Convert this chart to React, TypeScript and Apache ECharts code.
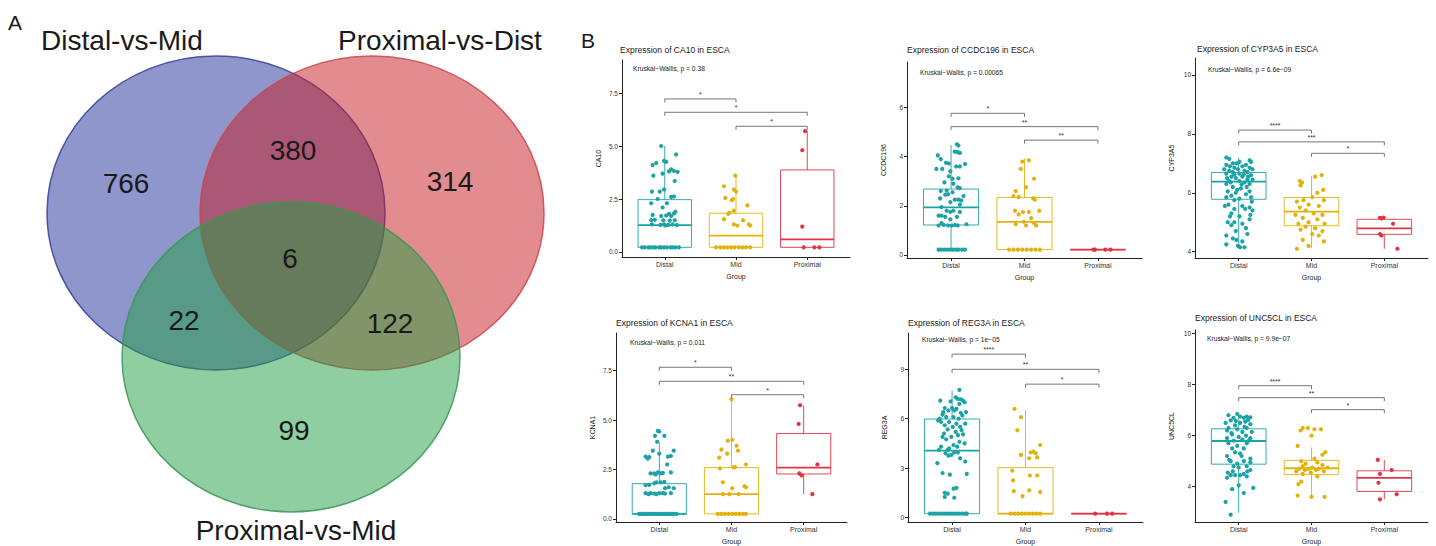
import React, { useEffect, useRef } from 'react';
import * as echarts from 'echarts';

// ---------------- Panel A: Venn ----------------
const vennSets = ['Distal-vs-Mid', 'Proximal-vs-Dist', 'Proximal-vs-Mid'];
const vennRegionLabels = ['766', '380', '314', '6', '22', '122', '99'];

// ---------------- Panel B: boxplots ----------------
const groups = ['Distal', 'Mid', 'Proximal'];
const groupColors = ['#1DA3A6', '#E2B20C', '#DF3444'];

// CA10
const ca10Distal = [
  [-0.32, 0.22], [-0.28, 0.22], [-0.23, 0.22], [-0.2, 0.22], [-0.16, 0.22], [-0.13, 0.22], [-0.08, 0.22], [-0.05, 0.22], [-0.01, 0.22], [0.03, 0.22], [0.08, 0.22], [0.11, 0.22], [0.15, 0.22], [0.2, 0.22],
  [-0.05, 5.0], [0.16, 4.6], [-0.01, 4.3], [0.02, 4.25], [-0.12, 4.2], [-0.17, 4.1], [0.09, 3.9], [0.06, 3.8], [0.13, 3.82], [0.18, 3.78],
  [-0.16, 3.6], [-0.03, 3.7], [0.14, 3.35], [-0.01, 2.95], [-0.18, 2.85], [-0.07, 2.85], [0.09, 2.6], [0.13, 2.62], [-0.1, 2.5],
  [-0.19, 2.3], [0.03, 2.3], [-0.03, 2.1], [0.15, 1.9], [0.06, 1.8], [0.13, 1.82], [0.09, 1.7], [0.02, 1.72], [-0.05, 1.7], [-0.17, 1.75],
  [-0.19, 1.5], [-0.14, 1.52], [-0.02, 1.5], [0.07, 1.48], [0.14, 1.5], [-0.18, 1.3], [-0.06, 1.28], [-0.01, 1.3], [0.01, 1.25], [0.05, 1.28], [0.11, 1.3], [0.17, 1.27],
];
const ca10Mid = [
  [-0.01, 3.6], [-0.17, 3.1], [-0.03, 2.95], [0.0, 2.85], [-0.15, 2.55], [-0.06, 2.45], [-0.04, 2.5], [0.16, 2.2], [-0.03, 1.95], [-0.09, 1.85], [-0.11, 1.8],
  [-0.17, 1.55], [0.1, 1.5], [-0.03, 1.3], [0.02, 1.25], [0.18, 1.3], [0.2, 1.25],
  [-0.28, 0.22], [-0.22, 0.22], [-0.17, 0.22], [-0.12, 0.22], [-0.07, 0.22], [-0.02, 0.22], [0.04, 0.22], [0.09, 0.22], [0.14, 0.22], [0.2, 0.22],
];
const ca10Proximal = [[-0.03, 5.7], [-0.07, 4.8], [-0.07, 1.2], [-0.05, 0.22], [0.1, 0.22], [0.17, 0.22]];
const ca10Boxes = [[0.22, 0.22, 1.27, 2.47, 5.0], [0.22, 0.22, 0.77, 1.83, 3.6], [0.22, 0.22, 0.6, 3.87, 5.7]];
const ca10Brackets = [[1, 2, 7.22], [1, 3, 6.59], [2, 3, 5.93]];
const ca10Signif = ['*', '*', '*'];
const ca10Ticks = [0, 2.5, 5, 7.5];

// CCDC196
const ccdcDistal = [
  [-0.17, 0.22], [-0.13, 0.22], [-0.09, 0.22], [-0.05, 0.22], [-0.01, 0.22], [0.03, 0.22], [0.07, 0.22], [0.1, 0.22], [0.15, 0.22], [0.19, 0.22],
  [0.08, 4.5], [0.1, 4.45], [0.05, 4.2], [0.09, 4.18], [0.12, 4.15], [-0.18, 4.05], [-0.14, 3.9], [-0.07, 3.75], [-0.03, 3.72], [0.19, 3.7],
  [0.07, 3.6], [0.12, 3.6], [-0.2, 3.5], [-0.12, 3.5], [-0.01, 3.4], [-0.03, 3.2], [0.02, 3.1], [0.1, 3.12], [-0.09, 2.95], [0.03, 2.9],
  [0.09, 2.75], [0.12, 2.72], [-0.14, 2.6], [-0.06, 2.62], [0.02, 2.55], [-0.08, 2.45], [-0.04, 2.47], [0.17, 2.4], [-0.15, 2.3], [0.05, 2.25],
  [0.1, 2.25], [0.14, 2.22], [-0.01, 2.15], [0.12, 2.05], [-0.13, 1.95], [-0.06, 1.8], [0.03, 1.8], [-0.01, 1.75], [0.12, 1.75], [-0.17, 1.6],
  [-0.13, 1.6], [-0.08, 1.55], [0.08, 1.55], [-0.01, 1.45], [-0.13, 1.3], [-0.17, 1.2], [-0.1, 1.22], [-0.04, 1.2], [0.01, 1.2], [0.05, 1.22], [0.09, 1.2], [0.21, 1.25],
];
const ccdcMid = [
  [0.06, 3.85], [-0.03, 3.8], [-0.05, 3.5], [0.13, 3.1], [0.02, 2.75], [-0.12, 2.6], [-0.15, 2.4], [-0.08, 2.35], [0.12, 2.3], [0.14, 2.25],
  [-0.13, 1.8], [-0.02, 1.75], [0.06, 1.75], [0.2, 1.8], [-0.08, 1.65], [0.09, 1.5], [-0.01, 1.35], [0.13, 1.3], [-0.12, 1.25], [0.02, 1.2], [0.16, 1.2],
  [-0.21, 0.22], [-0.15, 0.22], [-0.09, 0.22], [-0.03, 0.22], [0.03, 0.22], [0.09, 0.22], [0.15, 0.22], [0.21, 0.22],
];
const ccdcProximal = [[-0.06, 0.22], [-0.04, 0.22], [0.1, 0.22], [0.17, 0.22]];
const ccdcBoxes = [[0.22, 1.22, 1.94, 2.68, 4.47], [0.22, 0.22, 1.35, 2.34, 3.93], [0.22, 0.22, 0.22, 0.22, 0.22]];
const ccdcBrackets = [[1, 2, 5.76], [1, 3, 5.22], [2, 3, 4.67]];
const ccdcSignif = ['*', '**', '**'];
const ccdcTicks = [0, 2, 4, 6];

// CYP3A5
const cypDistal = [
  [-0.17, 7.2], [-0.13, 7.15], [0.15, 7.1], [0.01, 7.05], [0.17, 7.05], [-0.08, 7.0], [-0.03, 7.0], [-0.17, 6.95], [0.1, 6.95], [-0.12, 6.9],
  [0.05, 6.9], [-0.06, 6.85], [0.15, 6.85], [-0.2, 6.8], [-0.01, 6.8], [0.19, 6.8], [-0.13, 6.75], [0.08, 6.75], [-0.08, 6.7], [0.12, 6.7],
  [-0.17, 6.65], [0.01, 6.65], [0.17, 6.6], [-0.1, 6.55], [0.05, 6.55], [-0.16, 6.5], [-0.04, 6.5], [0.12, 6.45], [0.19, 6.45], [-0.13, 6.4],
  [0.01, 6.4], [0.08, 6.35], [-0.17, 6.3], [0.15, 6.3], [-0.08, 6.2], [0.03, 6.15], [-0.15, 6.05], [0.15, 6.05], [-0.04, 6.0], [0.1, 5.95],
  [-0.1, 5.9], [-0.17, 5.85], [0.17, 5.85], [0.01, 5.8], [-0.06, 5.75], [-0.14, 5.6], [0.05, 5.55], [0.15, 5.5], [-0.06, 5.45], [0.09, 5.45],
  [0.19, 5.4], [-0.1, 5.3], [0.01, 5.2], [0.15, 5.1], [-0.15, 5.0], [-0.06, 5.0], [0.05, 4.95], [-0.1, 4.9], [0.1, 4.8], [-0.04, 4.7],
  [-0.17, 4.55], [-0.03, 4.4], [0.05, 4.35], [-0.17, 4.25], [-0.01, 4.2], [0.02, 4.15], [0.08, 4.15],
  [0.07, 6.62], [-0.06, 6.62], [0.13, 6.55], [-0.11, 6.35], [0.04, 6.28], [-0.02, 6.1], [0.11, 6.2], [0.18, 5.7], [-0.12, 5.2], [0.16, 5.25],
  [-0.19, 5.55], [0.12, 4.6], [-0.08, 4.45],
];
const cypMid = [
  [0.14, 6.6], [0.05, 6.55], [-0.16, 6.4], [-0.13, 6.35], [-0.15, 6.25], [0.16, 6.1], [0.08, 6.0], [0.01, 5.85], [-0.11, 5.75], [0.17, 5.75],
  [-0.2, 5.7], [-0.04, 5.6], [0.1, 5.55], [-0.16, 5.5], [-0.08, 5.4], [0.03, 5.3], [-0.22, 5.25], [0.15, 5.25], [-0.12, 5.15], [0.08, 5.1],
  [-0.04, 5.0], [-0.18, 4.95], [0.18, 4.95], [-0.08, 4.85], [0.05, 4.8], [-0.15, 4.75], [0.15, 4.7], [0.01, 4.6], [0.1, 4.55], [-0.12, 4.4],
  [0.17, 4.35], [-0.04, 4.2], [-0.2, 4.1],
];
const cypProximal = [[-0.06, 5.15], [-0.04, 5.13], [-0.01, 5.16], [0.12, 4.95], [-0.06, 4.6], [-0.04, 4.55], [0.18, 4.1]];
const cypBoxes = [[4.11, 5.78, 6.38, 6.69, 7.19], [4.12, 4.88, 5.36, 5.84, 6.58], [4.1, 4.59, 4.79, 5.1, 5.15]];
const cypBrackets = [[1, 2, 8.13], [1, 3, 7.73], [2, 3, 7.34]];
const cypSignif = ['****', '***', '*'];
const cypTicks = [4, 6, 8, 10];

// KCNA1
const kcnaDistal = [
  [-0.28, 0.25], [-0.25, 0.25], [-0.22, 0.25], [-0.19, 0.25], [-0.16, 0.25], [-0.13, 0.25], [-0.1, 0.25], [-0.07, 0.25], [-0.04, 0.25], [-0.01, 0.25],
  [0.02, 0.25], [0.05, 0.25], [0.08, 0.25], [0.11, 0.25], [0.14, 0.25], [0.17, 0.25], [0.2, 0.25], [0.24, 0.25],
  [-0.02, 4.45], [0.0, 4.42], [-0.06, 4.2], [0.07, 4.2], [-0.03, 3.9], [-0.09, 3.45], [0.2, 3.45], [0.0, 3.3], [-0.19, 3.15], [-0.14, 3.12],
  [0.12, 3.15], [0.16, 3.18], [-0.16, 3.05], [0.11, 2.75], [-0.02, 2.35], [0.16, 2.35], [-0.12, 2.3], [-0.07, 2.3], [0.02, 2.3], [0.05, 2.32],
  [-0.05, 2.25], [-0.04, 1.85], [0.02, 1.85], [0.07, 1.87], [-0.07, 1.8], [-0.19, 1.7], [-0.14, 1.72], [0.13, 1.6], [0.08, 1.55], [0.2, 1.55],
  [-0.19, 1.3], [-0.12, 1.3], [-0.07, 1.28], [0.0, 1.3], [0.05, 1.3], [0.08, 1.28], [0.16, 1.3], [-0.15, 1.25], [-0.04, 1.25],
];
const kcnaMid = [
  [0.0, 6.05], [0.01, 4.0], [-0.05, 3.95], [0.07, 3.7], [-0.14, 3.5], [0.09, 3.45], [-0.06, 3.3], [-0.17, 3.1], [0.2, 2.75], [0.03, 2.6],
  [0.05, 2.62], [-0.16, 2.55], [-0.12, 1.85], [0.18, 1.65], [0.2, 1.6], [0.01, 1.55], [-0.12, 1.25], [-0.03, 1.25], [0.1, 1.25],
  [-0.19, 0.25], [-0.14, 0.25], [-0.09, 0.25], [-0.04, 0.25], [0.01, 0.25], [0.06, 0.25], [0.11, 0.25], [0.16, 0.25], [0.2, 0.25],
];
const kcnaProximal = [[-0.05, 5.75], [-0.07, 4.8], [0.19, 2.75], [-0.06, 2.3], [-0.03, 2.2], [0.12, 1.25]];
const kcnaBoxes = [[0.25, 0.25, 0.25, 1.78, 3.88], [0.25, 0.25, 1.25, 2.59, 6.07], [1.25, 2.27, 2.59, 4.32, 5.74]];
const kcnaBrackets = [[1, 2, 7.67], [1, 3, 6.96], [2, 3, 6.28]];
const kcnaSignif = ['*', '**', '*'];
const kcnaTicks = [0, 2.5, 5, 7.5];

// REG3A
const regDistal = [
  [0.1, 7.75], [0.05, 7.3], [0.08, 7.2], [0.12, 7.18], [-0.16, 7.1], [0.15, 7.1], [0.17, 7.0], [0.1, 6.9], [-0.1, 6.65], [0.0, 6.65],
  [0.06, 6.6], [-0.05, 6.5], [0.03, 6.5], [0.19, 6.4], [0.12, 6.35], [-0.13, 6.25], [-0.08, 6.1], [0.02, 6.1], [0.09, 6.0], [-0.19, 5.9],
  [-0.04, 5.8], [-0.15, 5.8], [0.06, 5.7], [0.18, 5.7], [-0.1, 5.6], [0.01, 5.5], [0.11, 5.5], [-0.06, 5.35], [0.05, 5.2], [0.15, 5.05],
  [0.08, 5.0], [-0.13, 4.9], [-0.01, 4.9], [-0.08, 4.75], [0.1, 4.6], [0.17, 4.5], [0.02, 4.4], [-0.15, 4.3], [-0.18, 4.1], [-0.06, 4.1],
  [0.03, 3.95], [0.08, 3.95], [-0.09, 3.9], [-0.01, 3.8], [-0.05, 3.75], [0.11, 3.6], [0.18, 3.4], [-0.2, 3.3], [-0.13, 2.7], [0.2, 2.65],
  [-0.03, 2.6], [0.06, 1.8], [0.02, 1.75], [-0.1, 1.5], [-0.06, 1.45], [-0.1, 1.25], [0.03, 1.2],
  [-0.02, 7.05], [-0.12, 6.4], [0.14, 6.2], [-0.17, 6.0], [0.13, 5.3], [-0.11, 5.1], [0.07, 4.3], [-0.04, 4.2],
  [-0.3, 0.23], [-0.26, 0.23], [-0.22, 0.23], [-0.18, 0.23], [-0.14, 0.23], [-0.1, 0.23], [-0.06, 0.23], [-0.02, 0.23], [0.02, 0.23], [0.06, 0.23],
  [0.1, 0.23], [0.14, 0.23], [0.18, 0.23], [0.2, 0.23],
];
const regMid = [
  [-0.15, 6.6], [-0.06, 6.1], [-0.11, 5.3], [0.2, 4.4], [0.11, 4.0], [0.07, 3.95], [0.14, 3.9], [-0.06, 3.8], [0.05, 3.6], [0.16, 3.65],
  [-0.18, 2.85], [0.06, 2.55], [0.16, 2.55], [-0.17, 2.25], [-0.16, 1.6], [0.05, 1.65], [0.2, 1.55], [-0.04, 1.3],
  [-0.2, 0.23], [-0.15, 0.23], [-0.1, 0.23], [-0.05, 0.23], [0.0, 0.23], [0.05, 0.23], [0.1, 0.23], [0.15, 0.23], [0.2, 0.23],
];
const regProximal = [[-0.05, 0.23], [0.11, 0.23], [0.18, 0.23]];
const regBoxes = [[0.23, 0.23, 4.06, 5.98, 7.71], [0.23, 0.23, 0.23, 3.03, 6.54], [0.23, 0.23, 0.23, 0.23, 0.23]];
const regBrackets = [[1, 2, 9.92], [1, 3, 9.0], [2, 3, 8.1]];
const regSignif = ['****', '**', '*'];
const regTicks = [0, 3, 6, 9];

// UNC5CL
const uncDistal = [
  [-0.02, 6.85], [-0.14, 6.8], [0.02, 6.75], [0.11, 6.75], [0.16, 6.72], [-0.07, 6.7], [0.07, 6.7], [-0.11, 6.6], [0.09, 6.55], [-0.18, 6.5],
  [0.02, 6.5], [0.16, 6.45], [-0.05, 6.4], [-0.14, 6.3], [0.11, 6.3], [-0.02, 6.25], [-0.16, 6.2], [0.05, 6.15], [0.18, 6.15], [-0.09, 6.05],
  [0.1, 6.0], [0.0, 5.95], [-0.16, 5.9], [0.16, 5.9], [0.05, 5.85], [-0.07, 5.8], [-0.14, 5.7], [0.11, 5.7], [-0.02, 5.6], [-0.09, 5.5],
  [0.07, 5.5], [-0.05, 5.35], [0.02, 5.3], [-0.16, 5.2], [0.16, 5.1], [-0.11, 5.0], [0.07, 5.0], [0.16, 4.95], [-0.02, 4.9], [-0.07, 4.8],
  [0.11, 4.8], [0.0, 4.75], [0.16, 4.65], [-0.15, 4.55], [0.07, 4.5], [-0.11, 4.45], [-0.05, 4.45], [0.02, 4.45], [0.11, 4.4], [-0.16, 4.35],
  [0.0, 4.05], [-0.09, 3.9], [0.2, 3.95], [0.07, 3.75], [-0.18, 3.4], [-0.11, 2.9],
  [0.13, 6.62], [-0.04, 6.58], [0.08, 6.35], [-0.1, 6.1], [0.14, 5.8], [0.04, 5.2], [-0.13, 5.05], [0.12, 4.6], [-0.08, 4.6],
];
const uncMid = [
  [-0.12, 6.3], [-0.05, 6.3], [0.04, 6.25], [0.13, 6.25], [-0.15, 6.2], [0.0, 6.0], [-0.19, 5.6], [0.19, 5.35], [0.15, 5.25], [0.04, 5.1],
  [-0.14, 5.0], [0.08, 4.95], [-0.08, 4.9], [0.15, 4.85], [-0.12, 4.8], [0.01, 4.75], [0.22, 4.75], [-0.17, 4.7], [-0.04, 4.7], [0.1, 4.7],
  [-0.09, 4.65], [0.06, 4.65], [-0.21, 4.6], [0.17, 4.6], [-0.01, 4.55], [-0.12, 4.5], [0.08, 4.4], [-0.14, 4.2], [-0.18, 4.1], [-0.19, 3.65],
  [0.0, 3.6], [0.18, 3.6],
];
const uncProximal = [[-0.09, 5.05], [0.1, 4.65], [-0.06, 4.5], [-0.08, 4.15], [0.17, 3.7], [-0.06, 3.5]];
const uncBoxes = [[2.98, 4.88, 5.79, 6.27, 6.86], [3.58, 4.47, 4.72, 5.03, 5.54], [3.5, 3.81, 4.34, 4.62, 5.05]];
const uncBrackets = [[1, 2, 7.96], [1, 3, 7.49], [2, 3, 7.02]];
const uncSignif = ['****', '**', '*'];
const uncTicks = [4, 6, 8, 10];

const genes = ['CA10', 'CCDC196', 'CYP3A5', 'KCNA1', 'REG3A', 'UNC5CL'];
const kwLabels = [
  'Kruskal\u2212Wallis, p = 0.38',
  'Kruskal\u2212Wallis, p = 0.00065',
  'Kruskal\u2212Wallis, p = 6.6e\u221209',
  'Kruskal\u2212Wallis, p = 0.011',
  'Kruskal\u2212Wallis, p = 1e\u221205',
  'Kruskal\u2212Wallis, p = 9.9e\u221207',
];

// ---------------- layout (positions / sizes only) ----------------
const FONT = "'Liberation Sans', Arial, sans-serif";
const panelLayout = [
  { left: 622, top: 60, width: 228, height: 197, min: -0.236, max: 9.057, decimals: 1, tx: 620, ty: 50, kx: 633, ky: 68 },
  { left: 907, top: 62, width: 235, height: 196, min: -0.122, max: 7.846, decimals: 0, tx: 907, ty: 50, kx: 920, ky: 72 },
  { left: 1195, top: 58, width: 233, height: 200, min: 3.786, max: 10.577, decimals: 0, tx: 1197, ty: 49, kx: 1208, ky: 69 },
  { left: 616, top: 333, width: 231, height: 197, min: -0.16, max: 9.403, decimals: 1, tx: 616, ty: 323, kx: 630, ky: 342 },
  { left: 908, top: 333, width: 235, height: 196, min: -0.275, max: 11.207, decimals: 0, tx: 908, ty: 323, kx: 922, ky: 339 },
  { left: 1195, top: 330, width: 233, height: 199, min: 2.612, max: 10.144, decimals: 0, tx: 1195, ty: 318, kx: 1207, ky: 338 },
];

const panelPoints = [
  [ca10Distal, ca10Mid, ca10Proximal],
  [ccdcDistal, ccdcMid, ccdcProximal],
  [cypDistal, cypMid, cypProximal],
  [kcnaDistal, kcnaMid, kcnaProximal],
  [regDistal, regMid, regProximal],
  [uncDistal, uncMid, uncProximal],
];
const panelBoxes = [ca10Boxes, ccdcBoxes, cypBoxes, kcnaBoxes, regBoxes, uncBoxes];
const panelBrackets = [ca10Brackets, ccdcBrackets, cypBrackets, kcnaBrackets, regBrackets, uncBrackets];
const panelSignif = [ca10Signif, ccdcSignif, cypSignif, kcnaSignif, regSignif, uncSignif];
const panelTicks = [ca10Ticks, ccdcTicks, cypTicks, kcnaTicks, regTicks, uncTicks];

const vennEllipses = [
  { cx: 216, cy: 213, rx: 169, ry: 157, fill: 'rgba(29,45,153,0.5)', stroke: 'rgba(55,65,150,0.85)' },
  { cx: 372, cy: 213, rx: 172, ry: 157, fill: 'rgba(197,25,31,0.5)', stroke: 'rgba(205,70,80,0.85)' },
  { cx: 291, cy: 357, rx: 169, ry: 155, fill: 'rgba(31,157,65,0.5)', stroke: 'rgba(60,150,85,0.85)' },
];
const vennSetPos = [[122, 40], [440, 40], [296, 530]];
const vennRegionPos = [[126, 183], [293, 150], [450, 181], [290, 258], [184, 320], [390, 323], [294, 430]];

function buildOption() {
  const grid: any[] = [];
  const xAxis: any[] = [];
  const yAxis: any[] = [];
  const series: any[] = [];
  const graphic: any[] = [];

  // Venn
  vennEllipses.forEach((e) => {
    graphic.push({
      type: 'ellipse',
      shape: { cx: e.cx, cy: e.cy, rx: e.rx, ry: e.ry },
      style: { fill: e.fill, stroke: e.stroke, lineWidth: 1.5 },
      silent: true,
    });
  });
  vennSets.forEach((s, i) => {
    graphic.push({
      type: 'text', x: vennSetPos[i][0], y: vennSetPos[i][1], silent: true,
      style: { text: s, font: `28px ${FONT}`, fill: '#1a1a1a', textAlign: 'center', textVerticalAlign: 'middle' },
    });
  });
  vennRegionLabels.forEach((s, i) => {
    graphic.push({
      type: 'text', x: vennRegionPos[i][0], y: vennRegionPos[i][1], silent: true,
      style: { text: s, font: `28px ${FONT}`, fill: '#1a1a1a', textAlign: 'center', textVerticalAlign: 'middle' },
    });
  });
  graphic.push({ type: 'text', x: 15, y: 22, style: { text: 'A', font: `21px ${FONT}`, fill: '#1a1a1a', textAlign: 'center', textVerticalAlign: 'middle' } });
  graphic.push({ type: 'text', x: 588, y: 40, style: { text: 'B', font: `21px ${FONT}`, fill: '#1a1a1a', textAlign: 'center', textVerticalAlign: 'middle' } });

  panelLayout.forEach((L, i) => {
    grid.push({ left: L.left, top: L.top, width: L.width, height: L.height, containLabel: false });
    xAxis.push({
      gridIndex: i, type: 'value', min: 0.4, max: 3.6,
      axisLine: { show: true, onZero: false, lineStyle: { color: '#222', width: 1 } },
      axisTick: { show: true, customValues: [1, 2, 3], length: 3, lineStyle: { color: '#222', width: 1 } },
      axisLabel: { customValues: [1, 2, 3], formatter: (v: number) => groups[Math.round(v) - 1] || '', fontSize: 7, color: '#333', margin: 4, fontFamily: FONT },
      splitLine: { show: false },
      name: 'Group', nameLocation: 'middle', nameGap: 16,
      nameTextStyle: { fontSize: 7, color: '#1a1a1a', fontFamily: FONT },
    });
    yAxis.push({
      gridIndex: i, type: 'value', min: L.min, max: L.max,
      axisLine: { show: true, onZero: false, lineStyle: { color: '#222', width: 1 } },
      axisTick: { show: true, customValues: panelTicks[i], length: 3, lineStyle: { color: '#222', width: 1 } },
      axisLabel: { customValues: panelTicks[i], formatter: (v: number) => v.toFixed(L.decimals), fontSize: 6.5, color: '#333', margin: 4, fontFamily: FONT },
      splitLine: { show: false },
      name: genes[i], nameLocation: 'middle', nameGap: 20, nameRotate: 90,
      nameTextStyle: { fontSize: 7, color: '#1a1a1a', fontFamily: FONT },
    });

    // boxes
    const boxData = panelBoxes[i].map((b, g) => [g + 1, b[0], b[1], b[2], b[3], b[4], g]);
    series.push({
      type: 'custom', xAxisIndex: i, yAxisIndex: i, data: boxData, z: 2, silent: true,
      encode: { x: 0, y: [1, 2, 3, 4, 5] },
      renderItem: (params: any, api: any) => {
        const x = api.value(0);
        const lo = api.value(1), q1 = api.value(2), med = api.value(3), q3 = api.value(4), hi = api.value(5);
        const color = groupColors[api.value(6)];
        const hw = 0.375;
        const pLo = api.coord([x, lo]);
        const pQ1 = api.coord([x, q1]);
        const pQ3 = api.coord([x, q3]);
        const pHi = api.coord([x, hi]);
        const tl = api.coord([x - hw, q3]);
        const br = api.coord([x + hw, q1]);
        const mL = api.coord([x - hw, med]);
        const mR = api.coord([x + hw, med]);
        const ls = { stroke: color, lineWidth: 0.9, fill: 'none' };
        return {
          type: 'group',
          children: [
            { type: 'line', shape: { x1: pLo[0], y1: pLo[1], x2: pQ1[0], y2: pQ1[1] }, style: ls },
            { type: 'line', shape: { x1: pQ3[0], y1: pQ3[1], x2: pHi[0], y2: pHi[1] }, style: ls },
            { type: 'rect', shape: { x: tl[0], y: tl[1], width: br[0] - tl[0], height: br[1] - tl[1] }, style: ls },
            { type: 'line', shape: { x1: mL[0], y1: mL[1], x2: mR[0], y2: mR[1] }, style: { stroke: color, lineWidth: 1.8 } },
          ],
        };
      },
    });

    // points
    panelPoints[i].forEach((pts, g) => {
      series.push({
        type: 'scatter', xAxisIndex: i, yAxisIndex: i, z: 3, silent: true,
        symbol: 'circle', symbolSize: 4.2,
        itemStyle: { color: groupColors[g], opacity: 1 },
        data: pts.map((p) => [g + 1 + p[0], p[1]]),
      });
    });

    // significance brackets
    const sig = panelSignif[i];
    series.push({
      type: 'custom', xAxisIndex: i, yAxisIndex: i, z: 4, silent: true,
      data: panelBrackets[i],
      encode: { x: [0, 1], y: 2 },
      renderItem: (params: any, api: any) => {
        const a = api.coord([api.value(0), api.value(2)]);
        const b = api.coord([api.value(1), api.value(2)]);
        const t = 3.5;
        return {
          type: 'group',
          children: [
            { type: 'polyline', shape: { points: [[a[0], a[1] + t], [a[0], a[1]], [b[0], b[1]], [b[0], b[1] + t]] }, style: { stroke: '#666', lineWidth: 0.9, fill: 'none' } },
            { type: 'text', x: (a[0] + b[0]) / 2, y: a[1] - 1, style: { text: sig[params.dataIndex], fontSize: 7, fontFamily: FONT, fill: '#333', align: 'center', verticalAlign: 'bottom' } },
          ],
        };
      },
    });

    // titles and KW text
    graphic.push({
      type: 'text', x: L.tx, y: L.ty, silent: true,
      style: { text: `Expression of ${genes[i]} in ESCA`, font: `8.5px ${FONT}`, fill: '#1a1a1a', textAlign: 'left', textVerticalAlign: 'middle' },
    });
    graphic.push({
      type: 'text', x: L.kx, y: L.ky, silent: true,
      style: { text: kwLabels[i], font: `6.7px ${FONT}`, fill: '#1a1a1a', textAlign: 'left', textVerticalAlign: 'middle' },
    });
  });

  return {
    animation: false,
    backgroundColor: '#ffffff',
    textStyle: { fontFamily: FONT },
    grid, xAxis, yAxis, series, graphic,
  };
}

export default function App() {
  const ref = useRef<HTMLDivElement>(null);
  useEffect(() => {
    document.body.style.margin = '0';
    if (!ref.current) return;
    const chart = echarts.init(ref.current, undefined, { renderer: 'svg' });
    chart.setOption(buildOption() as any);
    return () => chart.dispose();
  }, []);
  return <div ref={ref} style={{ width: 1436, height: 546 }} />;
}
